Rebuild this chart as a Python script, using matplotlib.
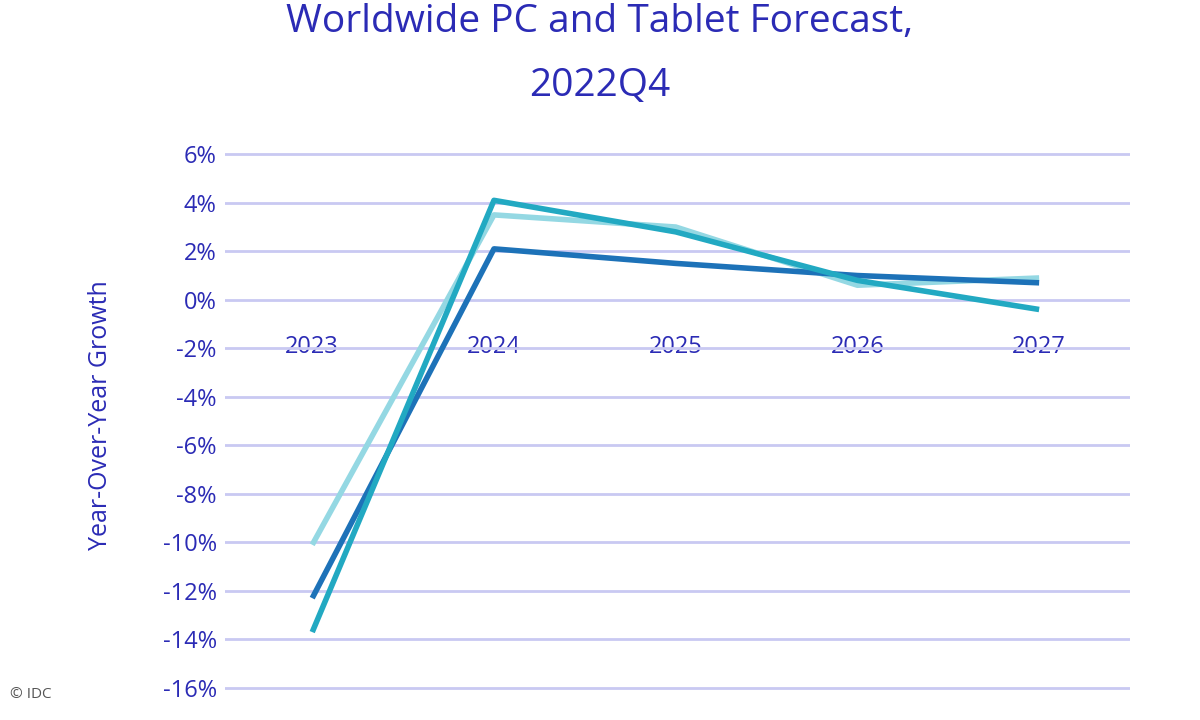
import matplotlib
matplotlib.use("Agg")
import matplotlib.pyplot as plt
from matplotlib.ticker import FuncFormatter

years = ["2023", "2024", "2025", "2026", "2027"]
series_dark = [-12.3, 2.1, 1.5, 1.0, 0.7]
series_teal = [-13.7, 4.1, 2.8, 0.8, -0.4]
series_light = [-10.1, 3.5, 3.0, 0.6, 0.9]

plt.rcParams['font.family'] = ['Open Sans', 'DejaVu Sans']
txt = '#2b2bb5'
fig = plt.figure(figsize=(12, 7.2), dpi=100)
ax = fig.add_axes([225/1200, 1-700/720, 905/1200, (700-130)/720])
x = list(range(len(years)))
ax.plot(x, series_light, color='#94d8e3', lw=4, solid_capstyle='butt')
ax.plot(x, series_dark, color='#1d72b8', lw=4, solid_capstyle='butt')
ax.plot(x, series_teal, color='#22a9c2', lw=4, solid_capstyle='butt')

ax.set_xlim(-0.48, 4.5)
ax.set_ylim(-16.5, 7.0)
ax.set_yticks(range(-16, 7, 2))
ax.yaxis.set_major_formatter(FuncFormatter(lambda v, p: f"{int(v)}%"))
ax.grid(axis='y', color='#c9c9f2', lw=2)
ax.set_axisbelow(True)
for s in ax.spines.values():
    s.set_visible(False)
ax.spines['bottom'].set_position(('data', 0))
ax.set_xticks(x)
ax.set_xticklabels(years)
ax.tick_params(axis='x', length=0, pad=25, labelsize=17, labelcolor=txt)
ax.tick_params(axis='y', length=0, pad=6, labelsize=17, labelcolor=txt)
ax.set_ylabel("Year-Over-Year Growth", fontsize=18, color=txt, labelpad=36)

fig.text(0.5, 1-22/720, "Worldwide PC and Tablet Forecast,", ha='center', va='center', fontsize=28, color=txt)
fig.text(0.5, 1-86/720, "2022Q4", ha='center', va='center', fontsize=28, color=txt)
fig.text(10/1200, 1-695/720, "© IDC", ha='left', va='center', fontsize=11, color='#555555')
fig.savefig("out.png", dpi=100)
